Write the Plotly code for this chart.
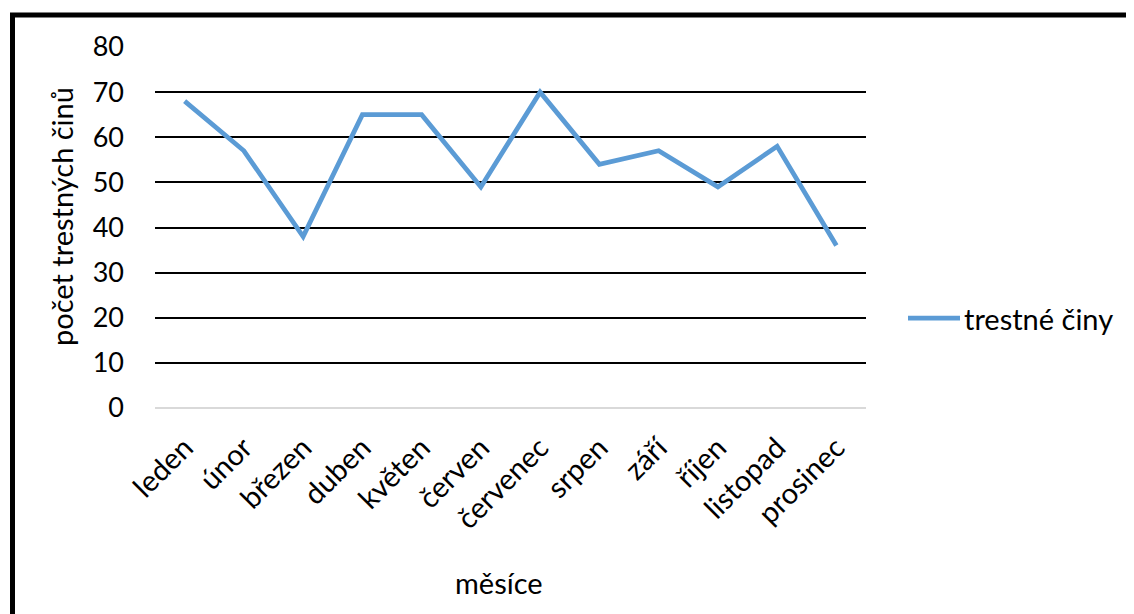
import plotly.graph_objects as go

months = ["leden", "únor", "březen", "duben", "květen", "červen", "červenec",
          "srpen", "září", "říjen", "listopad", "prosinec"]
crimes = [68, 57, 38, 65, 65, 49, 70, 54, 57, 49, 58, 36]
y_ticks = [0, 10, 20, 30, 40, 50, 60, 70, 80]
series_name = "trestné činy"
x_title = "měsíce"
y_title = "počet trestných činů"

OFF = 8  # default body margin of the page
W, H = 1134 - OFF, 614 - OFF
PL, PR, PT, PB = 155, 866, 47, 408  # plot area in window pixels
L, T = PL - OFF, PT - OFF
R, B = W - (PR - OFF), H - (PB - OFF)
pw, ph = PR - PL, PB - PT

def px(x):
    return (x - PL) / pw

def py(y):
    return (PB - y) / ph

FONT = "Lato"
LINE_COLOR = "#5B9BD5"

fig = go.Figure()
fig.add_trace(go.Scatter(
    x=months, y=crimes, mode="lines", name=series_name,
    line=dict(color=LINE_COLOR, width=4.75), showlegend=False,
))

fig.update_layout(
    width=W, height=H,
    margin=dict(l=L, r=R, t=T, b=B, autoexpand=False),
    paper_bgcolor="white", plot_bgcolor="white",
    font=dict(family=FONT, size=29, color="black"),
    xaxis=dict(
        type="category", range=[-0.5, 11.5], tickangle=-45,
        showgrid=False, showline=False, zeroline=False, ticks="",
        ticklabelstandoff=16,
        tickfont=dict(family=FONT, size=29, color="black"),
    ),
    yaxis=dict(
        range=[0, 80], tickvals=y_ticks, showgrid=True, gridcolor="black", gridwidth=1.5,
        zeroline=False, showline=False, ticks="", ticklabelstandoff=30,
        tickfont=dict(family=FONT, size=27, color="black"),
    ),
    annotations=[
        dict(text=x_title, xref="paper", yref="paper", x=px(499), y=py(582),
             xanchor="center", yanchor="middle", showarrow=False,
             font=dict(family=FONT, size=29, color="black")),
        dict(text=y_title, xref="paper", yref="paper", x=px(61), y=py(216),
             xanchor="center", yanchor="middle", showarrow=False, textangle=-90,
             font=dict(family=FONT, size=29, color="black")),
        dict(text=series_name, xref="paper", yref="paper", x=px(962), y=py(318),
             xanchor="left", yanchor="middle", showarrow=False,
             font=dict(family=FONT, size=29, color="black")),
    ],
    shapes=[
        dict(type="line", xref="paper", yref="paper", x0=0, x1=1, y0=0, y1=0,
             line=dict(color="#D9D9D9", width=2), layer="above"),
        dict(type="line", xref="paper", yref="paper", x0=px(908), x1=px(960),
             y0=py(318), y1=py(318), line=dict(color=LINE_COLOR, width=4.75)),
        dict(type="line", xref="paper", yref="paper", x0=px(10), x1=px(1200), y0=py(15), y1=py(15),
             line=dict(color="black", width=5)),
        dict(type="line", xref="paper", yref="paper", x0=px(12.5), x1=px(12.5), y0=py(13), y1=py(700),
             line=dict(color="black", width=5)),
    ],
)

fig.write_html("out.html")
